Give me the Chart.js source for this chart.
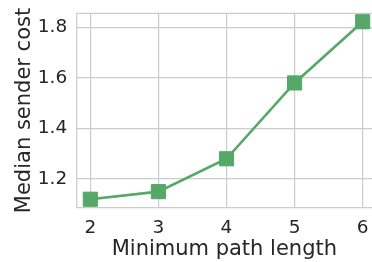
<!DOCTYPE html>
<html>
<head>
<meta charset="utf-8">
<script src="https://cdn.jsdelivr.net/npm/chart.js@4/dist/chart.umd.min.js"></script>
<style>
html,body{margin:0;padding:0;background:#fff;overflow:hidden;}
canvas{display:block;}
</style>
</head>
<body>
<canvas id="c" width="372" height="262" style="width:372px;height:262px"></canvas>
<script>
const pathLengths = [2, 3, 4, 5, 6];
const medianSenderCost = [1.12, 1.15, 1.28, 1.58, 1.822];
const xTickValues = [2, 3, 4, 5, 6];
const yTickValues = [1.2, 1.4, 1.6, 1.8];
const xTitle = 'Minimum path length';
const yTitle = 'Median sender cost';

const GRID = '#cccccc';
const TEXT = '#262626';
const GREEN = '#55a868';
const FONT = 'DejaVu Sans';

const framePlugin = {
  id: 'frame',
  beforeDatasetsDraw(chart) {
    const a = chart.chartArea, ctx = chart.ctx;
    ctx.save();
    ctx.strokeStyle = GRID;
    ctx.lineWidth = 1.2;
    ctx.beginPath();
    ctx.moveTo(a.right + 2, a.top);
    ctx.lineTo(a.left, a.top);
    ctx.lineTo(a.left, a.bottom);
    ctx.lineTo(a.right + 2, a.bottom);
    ctx.stroke();
    ctx.restore();
  }
};

new Chart(document.getElementById('c'), {
  type: 'line',
  data: {
    datasets: [{
      data: pathLengths.map((x, i) => ({x: x, y: medianSenderCost[i]})),
      borderColor: GREEN,
      backgroundColor: GREEN,
      borderWidth: 2.6,
      pointStyle: 'rect',
      pointRadius: 10,
      pointBorderWidth: 1,
      pointBorderColor: GREEN,
      pointBackgroundColor: GREEN,
      tension: 0,
      clip: false
    }]
  },
  options: {
    responsive: false,
    animation: false,
    devicePixelRatio: 1,
    layout: {autoPadding: false, padding: {top: 13.3, right: 0, left: 0, bottom: 0}},
    plugins: {legend: {display: false}, tooltip: {enabled: false}},
    scales: {
      x: {
        type: 'linear',
        min: 1.8, max: 6.137,
        afterBuildTicks(s) { s.ticks = xTickValues.map(v => ({value: v})); },
        afterFit(s) { s.height = 54.3; s.paddingLeft = 0; s.paddingRight = 0; },
        grid: {color: GRID, lineWidth: 1.2, drawTicks: false},
        border: {display: false},
        ticks: {color: TEXT, font: {family: FONT, size: 18.5}, padding: 9.5,
                callback: v => String(v)},
        title: {display: true, text: xTitle, color: TEXT,
                font: {family: FONT, size: 21}, padding: {top: 0, bottom: 0}}
      },
      y: {
        type: 'linear',
        min: 1.0865, max: 1.8554,
        afterBuildTicks(s) { s.ticks = yTickValues.map(v => ({value: v})); },
        afterFit(s) { s.width = 76.7; s.paddingTop = 0; s.paddingBottom = 0; },
        grid: {color: GRID, lineWidth: 1.2, drawTicks: false},
        border: {display: false},
        ticks: {color: TEXT, font: {family: FONT, size: 18.5}, padding: 9.5,
                callback: v => v.toFixed(1)},
        title: {display: true, text: yTitle, color: TEXT,
                font: {family: FONT, size: 21}, padding: {top: 12, bottom: 0}}
      }
    }
  },
  plugins: [framePlugin]
});
</script>
</body>
</html>
